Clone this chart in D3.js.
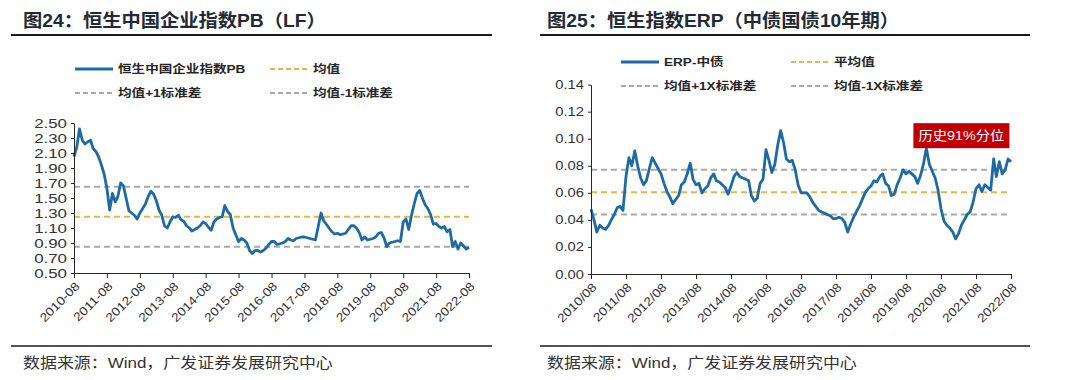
<!DOCTYPE html>
<html>
<head>
<meta charset="utf-8">
<script src="https://cdn.jsdelivr.net/npm/d3@7"></script>
<style>
body { margin: 0; background: #fff; }
text { font-family: "Liberation Sans", Arial, "Noto Sans CJK SC", sans-serif; }
</style>
</head>
<body>
<div id="chart"></div>
<script>
// one value per month, 2010-08 .. 2022-08
var pbValues = [
  2.05, 2.18, 2.42, 2.27, 2.22, 2.25, 2.27, 2.16, 2.12, 2.05, 1.94, 1.82,
  1.63, 1.34, 1.56, 1.45, 1.52, 1.70, 1.66, 1.50, 1.33, 1.30, 1.27, 1.22,
  1.30, 1.36, 1.42, 1.52, 1.59, 1.55, 1.46, 1.34, 1.27, 1.13, 1.10, 1.18,
  1.25, 1.24, 1.27, 1.21, 1.19, 1.13, 1.10, 1.06, 1.08, 1.10, 1.13, 1.18,
  1.16, 1.11, 1.07, 1.18, 1.22, 1.24, 1.25, 1.40, 1.32, 1.28, 1.10, 1.01,
  0.92, 0.96, 0.94, 0.90, 0.80, 0.76, 0.80, 0.80, 0.78, 0.80, 0.83, 0.88,
  0.92, 0.92, 0.88, 0.89, 0.90, 0.92, 0.96, 0.94, 0.93, 0.96, 0.97, 0.98,
  0.98, 0.97, 0.96, 0.95, 0.94, 1.12, 1.30, 1.20, 1.15, 1.10, 1.05, 1.02,
  1.03, 1.01, 1.02, 1.03, 1.08, 1.13, 1.13, 1.10, 1.04, 0.94, 0.98, 0.94,
  0.95, 0.96, 0.98, 1.03, 1.04, 0.97, 0.85, 0.90, 0.91, 0.92, 0.93, 0.92,
  1.18, 1.22, 1.08, 1.27, 1.42, 1.56, 1.60, 1.50, 1.41, 1.36, 1.28, 1.15,
  1.16, 1.12, 1.10, 1.12, 1.05, 1.08, 0.85, 0.92, 0.82, 0.90, 0.86, 0.82,
  0.84
];
var pbMean = 1.25, pbUpper = 1.65, pbLower = 0.85;
var pbYTicks = [0.50, 0.70, 0.90, 1.10, 1.30, 1.50, 1.70, 1.90, 2.10, 2.30, 2.50];
var pbXLabels = ["2010-08", "2011-08", "2012-08", "2013-08", "2014-08", "2015-08", "2016-08",
                 "2017-08", "2018-08", "2019-08", "2020-08", "2021-08", "2022-08"];
var pbLegend = ["恒生中国企业指数PB", "均值", "均值+1标准差", "均值-1标准差"];

var erpValues = [
  0.048, 0.040, 0.031, 0.036, 0.034, 0.033, 0.036, 0.040, 0.044, 0.049, 0.050, 0.047,
  0.072, 0.086, 0.080, 0.091, 0.080, 0.071, 0.066, 0.069, 0.078, 0.086, 0.082, 0.078,
  0.074, 0.067, 0.061, 0.057, 0.052, 0.055, 0.058, 0.066, 0.068, 0.074, 0.082, 0.070,
  0.066, 0.067, 0.060, 0.063, 0.065, 0.071, 0.074, 0.069, 0.068, 0.066, 0.064, 0.059,
  0.065, 0.072, 0.075, 0.072, 0.071, 0.070, 0.069, 0.058, 0.054, 0.056, 0.067, 0.070,
  0.092, 0.084, 0.075, 0.081, 0.095, 0.106, 0.097, 0.085, 0.083, 0.084, 0.077, 0.066,
  0.060, 0.060, 0.060, 0.057, 0.053, 0.050, 0.047, 0.046, 0.045, 0.044, 0.043, 0.041,
  0.041, 0.042, 0.041, 0.038, 0.031, 0.037, 0.042, 0.046, 0.050, 0.055, 0.060, 0.063,
  0.065, 0.069, 0.068, 0.072, 0.074, 0.067, 0.065, 0.058, 0.059, 0.066, 0.071, 0.077,
  0.074, 0.076, 0.074, 0.072, 0.067, 0.073, 0.082, 0.093, 0.081, 0.076, 0.071, 0.062,
  0.048, 0.039, 0.036, 0.034, 0.031, 0.026, 0.030, 0.036, 0.040, 0.044, 0.046, 0.053,
  0.063, 0.066, 0.061, 0.066, 0.064, 0.062, 0.085, 0.072, 0.083, 0.074, 0.077, 0.085,
  0.083
];
var erpMean = 0.0605, erpUpper = 0.077, erpLower = 0.044;
var erpYTicks = [0.00, 0.02, 0.04, 0.06, 0.08, 0.10, 0.12, 0.14];
var erpXLabels = ["2010/08", "2011/08", "2012/08", "2013/08", "2014/08", "2015/08", "2016/08",
                  "2017/08", "2018/08", "2019/08", "2020/08", "2021/08", "2022/08"];
var erpLegend = ["ERP-中债", "平均值", "均值+1X标准差", "均值-1X标准差"];
var erpNote = "历史91%分位";
var erpNoteMonth = 115; // 2020-03 peak

var blue = "#1d6aa6", yellow = "#e5b845", grey = "#a9a9a9";
var startMonth = new Date(2010, 7, 1);

var svg = d3.select("#chart").append("svg")
    .attr("width", 1080)
    .attr("height", 380);

// glyphs in the source picture are drawn a bit wide
function widen(sel, k) {
  sel.each(function() {
    var w = this.getComputedTextLength();
    d3.select(this).attr("textLength", w * k).attr("lengthAdjust", "spacingAndGlyphs");
  });
}

function drawChart(o) {
  var g = svg.append("g");
  var data = o.values.map(function(v, i) {
    return {date: d3.timeMonth.offset(startMonth, i), value: v};
  });
  var ticks = o.xLabels.map(o.parse);

  var x = d3.scaleTime()
    .domain([ticks[0], ticks[ticks.length - 1]])
    .range([o.x0, o.x1]);
  var y = d3.scaleLinear()
    .domain([o.yTicks[0], o.yTicks[o.yTicks.length - 1]])
    .range([o.y0, o.y1]);

  // title and rules
  g.append("text")
    .attr("x", o.titleX).attr("y", 27)
    .style("font-size", "18px").style("font-weight", "bold").style("fill", "#222a35")
    .text(o.title)
    .call(widen, 1.07);
  g.append("line").attr("x1", o.ruleX0).attr("x2", o.ruleX1).attr("y1", 35).attr("y2", 35)
    .attr("stroke", "#1a1a1a").attr("stroke-width", 1.8);
  g.append("line").attr("x1", o.ruleX0).attr("x2", o.ruleX1).attr("y1", 346).attr("y2", 346)
    .attr("stroke", "#1a1a1a").attr("stroke-width", 1.5);
  g.append("text")
    .attr("x", o.titleX).attr("y", 368)
    .style("font-size", "15px").style("fill", "#333")
    .text("数据来源：Wind，广发证券发展研究中心")
    .call(widen, 1.13);

  // legend
  var items = [
    {label: o.legend[0], color: blue, dash: null, col: 0, row: 0},
    {label: o.legend[1], color: yellow, dash: "5,3", col: 1, row: 0},
    {label: o.legend[2], color: grey, dash: "5,3", col: 0, row: 1},
    {label: o.legend[3], color: grey, dash: "5,3", col: 1, row: 1}
  ];
  items.forEach(function(it) {
    var lx = o.legX[it.col], ly = o.legY[it.row];
    g.append("line").attr("x1", lx).attr("x2", lx + 38).attr("y1", ly).attr("y2", ly)
      .attr("stroke", it.color).attr("stroke-width", it.dash ? 2 : 2.8)
      .attr("stroke-dasharray", it.dash);
    g.append("text").attr("x", lx + 43).attr("y", ly).attr("dy", "0.35em")
      .style("font-size", "11.5px").style("font-weight", "bold").style("fill", "#262626")
      .text(it.label)
      .call(widen, 1.18);
  });

  // mean and +/- 1 std lines
  [[o.upper, grey], [o.mean, yellow], [o.lower, grey]].forEach(function(r) {
    g.append("line")
      .attr("x1", o.x0).attr("x2", o.x1)
      .attr("y1", y(r[0])).attr("y2", y(r[0]))
      .attr("stroke", r[1]).attr("stroke-width", 2).attr("stroke-dasharray", "6,4");
  });

  g.append("path")
    .datum(data)
    .attr("fill", "none")
    .attr("stroke", blue)
    .attr("stroke-width", 2.8)
    .attr("stroke-linejoin", "round")
    .attr("d", d3.line()
      .x(function(d) { return x(d.date); })
      .y(function(d) { return y(d.value); }));

  // axes
  var yAxis = g.append("g")
    .attr("transform", "translate(" + o.x0 + ",0)")
    .call(d3.axisLeft(y).tickValues(o.yTicks).tickFormat(d3.format(".2f"))
      .tickSize(3).tickSizeOuter(0).tickPadding(4));
  yAxis.selectAll("path, line").attr("stroke", "#262626");
  yAxis.selectAll("text").attr("font-family", null)
    .style("font-size", "12.5px").style("fill", "#333")
    .call(widen, o.yStretch);

  var xAxis = g.append("g")
    .attr("transform", "translate(0," + o.y0 + ")")
    .call(d3.axisBottom(x).tickValues(ticks)
      .tickFormat(function(d, i) { return o.xLabels[i]; })
      .tickSize(5).tickSizeOuter(0));
  xAxis.selectAll("path, line").attr("stroke", "#262626");
  xAxis.selectAll("text").attr("font-family", null)
    .attr("y", 0).attr("x", 0).attr("dy", "0.35em")
    .attr("transform", "translate(3,11) rotate(-45)")
    .style("text-anchor", "end").style("font-size", "12px").style("fill", "#333")
    .call(widen, 1.15);

  return {g: g, x: x, y: y, data: data};
}

drawChart({
  title: "图24：恒生中国企业指数PB（LF）", titleX: 23, ruleX0: 11, ruleX1: 492,
  values: pbValues, mean: pbMean, upper: pbUpper, lower: pbLower,
  yTicks: pbYTicks, xLabels: pbXLabels, parse: d3.timeParse("%Y-%m"),
  legend: pbLegend, legX: [75, 270], legY: [69, 93],
  x0: 74, x1: 469, y0: 273, y1: 123, yStretch: 1.35
});

var right = drawChart({
  title: "图25：恒生指数ERP（中债国债10年期）", titleX: 547, ruleX0: 540, ruleX1: 1030,
  values: erpValues, mean: erpMean, upper: erpUpper, lower: erpLower,
  yTicks: erpYTicks, xLabels: erpXLabels, parse: d3.timeParse("%Y/%m"),
  legend: erpLegend, legX: [621, 791], legY: [62, 86],
  x0: 591, x1: 1011, y0: 274, y1: 84.6, yStretch: 1.18
});

// red callout above the 2020 peak
var peak = right.data[erpNoteMonth];
var bx = right.x(peak.date) - 13, by = right.y(peak.value) - 25;
right.g.append("rect")
  .attr("x", bx).attr("y", by).attr("width", 96).attr("height", 25)
  .attr("fill", "#c00000");
right.g.append("text")
  .attr("x", bx + 48).attr("y", by + 12.5).attr("dy", "0.35em")
  .style("text-anchor", "middle").style("font-size", "13px").style("fill", "#fff")
  .text(erpNote)
  .call(widen, 1.1);
</script>
</body>
</html>
